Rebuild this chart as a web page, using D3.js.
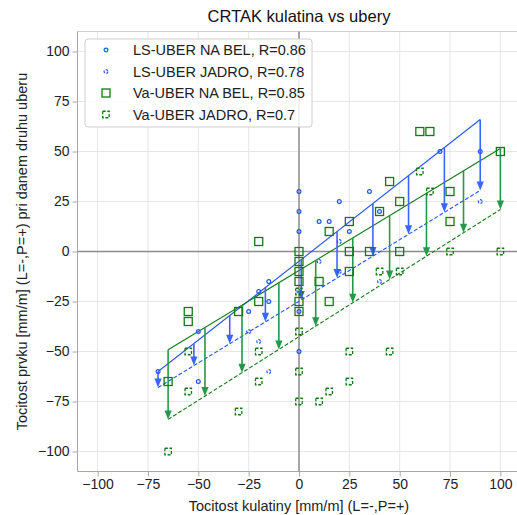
<!DOCTYPE html>
<html><head><meta charset="utf-8">
<script src="https://cdn.jsdelivr.net/npm/d3@7"></script>
<style>
html,body{margin:0;padding:0;background:#fff;}
svg{display:block;font-family:"Liberation Sans",Arial,sans-serif;}
</style></head>
<body>
<svg id="c" width="517" height="515"></svg>
<script>
// ---- data ----
const lsBelX = [-70,-50,-50,-25,-20,-15,-15,0,0,0,0,0,10,15,20,25,35,40,70,90];
const lsBelY = [-60,-40,-65,-30,-20,-15,-25,30,20,10,-30,-50,15,15,25,10,30,20,50,50];
const lsJadX = [-25,-20,-15,0,10,20,20,40,90];
const lsJadY = [-40,-45,-60,-20,-5,5,-10,-15,25];
const vaBelX = [-65,-55,-55,-30,-20,-20,0,0,0,0,0,0,10,15,15,25,25,25,35,40,45,50,50,60,65,75,75,100];
const vaBelY = [-65,-30,-35,-30,-25,5,0,-5,-10,-15,-25,-30,-15,10,-25,15,0,-10,0,20,35,25,0,60,60,30,15,50];
const vaJadX = [-65,-55,-55,-30,-20,-20,0,0,0,0,10,15,25,25,40,45,50,60,65,75,100];
const vaJadY = [-100,-50,-70,-80,-50,-65,-20,-40,-60,-75,-75,-70,-50,-65,-10,-50,-10,40,30,0,0];
// fitted lines: [slope, intercept], x extent
const lsBelFit = [0.7875, -4.9], lsJadFit = [0.616, -24.9], lsRange = [-70, 90];
const vaBelFit = [0.61, -9.5],  vaJadFit = [0.636, -42.6], vaRange = [-65, 100];
// arrow x positions
const lsArrowX = [-70,-52.2,-34.4,-16.7,1.1,18.9,36.7,54.4,72.2,90];
const vaArrowX = [-65,-46.7,-28.3,-10,8.3,26.7,45,63.3,81.7,100];
const ticks = [-100,-75,-50,-25,0,25,50,75,100];
const legendLabels = ["LS-UBER NA BEL, R=0.86","LS-UBER JADRO, R=0.78","Va-UBER NA BEL, R=0.85","Va-UBER JADRO, R=0.7"];

const BLUE = "#2255f0", BLUE_AR = "#3a66ff", GREEN = "#137a13", GREEN_AR = "#23994a";

const svg = d3.select("#c");
const x = d3.scaleLinear([-110,110],[77.5,520.5]);
const y = d3.scaleLinear([-110,110],[471.5,31.5]);
const L = 77.5, R = 520.5, T = 31.5, B = 471.5;

// grid
const g = svg.append("g");
g.selectAll(".gx").data(ticks).join("line").attr("x1",d=>x(d)).attr("x2",d=>x(d)).attr("y1",T).attr("y2",B)
  .attr("stroke","#e6e6e6").attr("stroke-width",1);
g.selectAll(".gy").data(ticks).join("line").attr("y1",d=>y(d)).attr("y2",d=>y(d)).attr("x1",L).attr("x2",R)
  .attr("stroke","#e6e6e6").attr("stroke-width",1);
// spines
svg.append("line").attr("x1",L).attr("x2",R).attr("y1",T).attr("y2",T).attr("stroke","#d0d0d0");
svg.append("line").attr("x1",L).attr("x2",L).attr("y1",T).attr("y2",B).attr("stroke","#a8a8a8");
svg.append("line").attr("x1",L).attr("x2",R).attr("y1",B).attr("y2",B).attr("stroke","#a8a8a8");
// zero lines
svg.append("line").attr("x1",x(0)).attr("x2",x(0)).attr("y1",T).attr("y2",B).attr("stroke","#8c8c8c").attr("stroke-width",1.5);
svg.append("line").attr("x1",L).attr("x2",R).attr("y1",y(0)).attr("y2",y(0)).attr("stroke","#8c8c8c").attr("stroke-width",1.5);

// axes
const xa = svg.append("g").attr("transform",`translate(0,${B})`)
  .call(d3.axisBottom(x).tickValues(ticks).tickSize(5).tickPadding(3).tickFormat(d3.format("d")));
const ya = svg.append("g").attr("transform",`translate(${L},0)`)
  .call(d3.axisLeft(y).tickValues(ticks).tickSize(5).tickPadding(3).tickFormat(d3.format("d")));
[xa,ya].forEach(a=>{a.select(".domain").remove();a.selectAll("line").attr("stroke","#a8a8a8");
  a.selectAll("text").attr("font-size",14).attr("fill","#222").attr("font-family","Liberation Sans, Arial, sans-serif");});

// regression lines
function fitLine(fit, range, color, dash){
  svg.append("line").attr("x1",x(range[0])).attr("y1",y(fit[0]*range[0]+fit[1]))
    .attr("x2",x(range[1])).attr("y2",y(fit[0]*range[1]+fit[1]))
    .attr("stroke",color).attr("stroke-width",1.1).attr("stroke-dasharray",dash||null);
}
fitLine(lsBelFit, lsRange, BLUE);
fitLine(lsJadFit, lsRange, BLUE, "4,2");
fitLine(vaBelFit, vaRange, GREEN);
fitLine(vaJadFit, vaRange, GREEN, "4,2");

// arrows
function arrows(xs, fa, fb, color){
  xs.forEach(xv=>{
    const y1 = y(fa[0]*xv+fa[1]), y2 = y(fb[0]*xv+fb[1]);
    const px = x(xv);
    svg.append("line").attr("x1",px).attr("x2",px).attr("y1",y1).attr("y2",y2-8)
      .attr("stroke",color).attr("stroke-width",1.6);
    svg.append("path").attr("d",`M${px-3.6},${y2-9}L${px+3.6},${y2-9}L${px},${y2}Z`).attr("fill",color);
  });
}
arrows(lsArrowX, lsBelFit, lsJadFit, BLUE_AR);
arrows(vaArrowX, vaBelFit, vaJadFit, GREEN_AR);

// markers
function squares(xs, ys, size, dash){
  svg.append("g").selectAll("rect").data(xs).join("rect")
    .attr("x",(d,i)=>x(d)-size/2).attr("y",(d,i)=>y(ys[i])-size/2).attr("width",size).attr("height",size)
    .attr("fill","none").attr("stroke",GREEN).attr("stroke-width",1.3).attr("stroke-dasharray",dash||null);
}
function circles(xs, ys, r, dash){
  svg.append("g").selectAll("circle").data(xs).join("circle")
    .attr("cx",d=>x(d)).attr("cy",(d,i)=>y(ys[i])).attr("r",r)
    .attr("fill","none").attr("stroke",BLUE).attr("stroke-width",1.2).attr("stroke-dasharray",dash||null);
}
squares(vaBelX, vaBelY, 8);
squares(vaJadX, vaJadY, 6.5, "3,1.6");
circles(lsBelX, lsBelY, 1.9);
circles(lsJadX, lsJadY, 1.9, "2.4,1.5");

// legend
const lg = svg.append("g");
lg.append("rect").attr("x",85).attr("y",39).attr("width",227).attr("height",88).attr("rx",3)
  .attr("fill","rgba(255,255,255,0.85)").attr("stroke","#cfcfcf");
const ly = [50,71.5,93,114.5];
legendLabels.forEach((t,i)=>{
  lg.append("text").attr("x",133).attr("y",ly[i]).attr("dy","0.35em").attr("font-size",14.5).attr("fill","#222").text(t);
});
lg.append("circle").attr("cx",106).attr("cy",ly[0]).attr("r",1.9).attr("fill","none").attr("stroke",BLUE).attr("stroke-width",1.2);
lg.append("circle").attr("cx",106).attr("cy",ly[1]).attr("r",1.9).attr("fill","none").attr("stroke",BLUE).attr("stroke-width",1.2).attr("stroke-dasharray","2.4,1.5");
lg.append("rect").attr("x",102).attr("y",ly[2]-4).attr("width",8).attr("height",8).attr("fill","none").attr("stroke",GREEN).attr("stroke-width",1.3);
lg.append("rect").attr("x",102.7).attr("y",ly[3]-3.25).attr("width",6.5).attr("height",6.5).attr("fill","none").attr("stroke",GREEN).attr("stroke-width",1.3).attr("stroke-dasharray","3,1.6");

// titles
svg.append("text").attr("x",299).attr("y",22).attr("text-anchor","middle").attr("font-size",16.5).attr("fill","#111").text("CRTAK kulatina vs ubery");
svg.append("text").attr("x",299).attr("y",511).attr("text-anchor","middle").attr("font-size",14.5).attr("fill","#222").text("Tocitost kulatiny [mm/m] (L=-,P=+)");
svg.append("text").attr("transform","translate(27,251.5) rotate(-90)").attr("text-anchor","middle").attr("font-size",14.5).attr("fill","#222").text("Tocitost prvku [mm/m] (L=-,P=+) pri danem druhu uberu");
</script>
</body></html>
